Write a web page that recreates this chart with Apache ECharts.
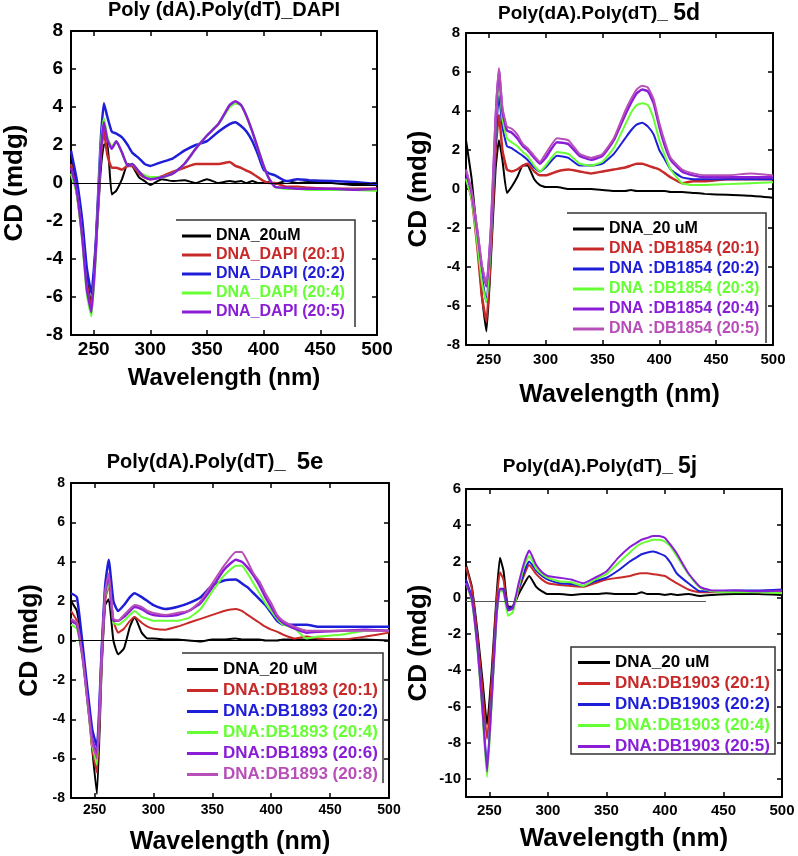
<!DOCTYPE html>
<html>
<head>
<meta charset="utf-8">
<script src="https://cdn.jsdelivr.net/npm/echarts@6/dist/echarts.min.js"></script>
<style>
html,body{margin:0;padding:0;background:#fff;}
#c{width:798px;height:856px;}
</style>
</head>
<body>
<div id="c"></div>
<script>
// ---- shared wavelength grid (nm) ----
const wavelength = [230,235,240,244,248,252,256,259,262,266,270,275,280,284,290,295,300,310,320,330,340,350,360,370,375,380,385,390,395,400,405,410,420,430,440,460,480,500];
const xTicks = [250,300,350,400,450,500];
const yTicks8 = [-8,-6,-4,-2,0,2,4,6,8];
const yTicks4 = [-10,-8,-6,-4,-2,0,2,4,6];

// ---- Panel 1: Poly (dA).Poly(dT)_DAPI ----
const p1Names = ['DNA_20uM','DNA_DAPI (20:1)','DNA_DAPI (20:2)','DNA_DAPI (20:4)','DNA_DAPI (20:5)'];
const p1Dna = [1.4,-0.3,-2.5,-5.0,-6.4,-3.5,0.5,2.0,2.1,-0.6, -0.4,0.2,1.0,0.9,0.3,0.1,-0.1,0.2,0.1,0.15, 0.0,0.2,0.0,0.1,0.05,0.1,0.0,0.1,0.0,0.0, 0.05,-0.05,0.1,0.0,0.05,0.0,-0.1,-0.1];
const p1R1 = [1.0,-0.5,-2.8,-5.3,-6.6,-3.2,1.2,2.8,1.5,0.8, 0.8,0.7,0.9,0.9,0.5,0.3,0.2,0.35,0.6,0.8, 1.0,1.0,1.0,1.1,0.9,0.8,0.65,0.5,0.3,0.1, 0.0,0.0,-0.2,-0.2,-0.25,-0.3,-0.3,-0.3];
const p1R2 = [1.7,0.2,-2.0,-4.5,-5.8,-3.0,2.0,4.2,3.5,2.7, 2.6,2.4,2.0,1.6,1.3,1.0,0.9,1.1,1.3,1.7, 2.0,2.2,2.7,3.1,3.2,3.0,2.7,2.2,1.5,0.7, 0.5,0.4,0.1,0.2,0.15,0.1,0.05,-0.05];
const p1R4 = [0.5,-0.5,-3.0,-5.8,-7.0,-3.6,1.5,3.4,2.4,1.9, 2.2,1.6,0.9,1.0,0.6,0.4,0.3,0.3,0.5,1.0, 1.8,2.5,3.1,4.0,4.2,4.1,3.5,2.7,1.8,0.9, 0.2,-0.2,-0.3,-0.3,-0.35,-0.35,-0.35,-0.4];
const p1R5 = [0.8,-0.4,-2.9,-5.6,-6.8,-3.4,1.3,3.2,2.3,1.8, 2.2,1.6,0.9,1.0,0.6,0.3,0.2,0.3,0.5,1.0, 1.8,2.5,3.1,4.1,4.3,4.1,3.5,2.7,1.8,0.9, 0.2,-0.2,-0.25,-0.3,-0.3,-0.3,-0.35,-0.3];

// ---- Panel 2: 5d ----
const p2Names = ['DNA_20 uM','DNA :DB1854 (20:1)','DNA :DB1854 (20:2)','DNA :DB1854 (20:3)','DNA :DB1854 (20:4)','DNA :DB1854 (20:5)'];
const p2Dna = [2.5,0.5,-2.5,-5.5,-7.3,-3.5,1.0,2.5,1.5,-0.2, 0.1,0.6,1.2,1.2,0.5,0.2,0.1,0.1,0.0,0.0, 0.0,-0.05,-0.1,-0.1,-0.05,-0.1,-0.1,-0.1,-0.1,-0.1, -0.1,-0.15,-0.15,-0.2,-0.25,-0.3,-0.35,-0.45];
const p2R1 = [0.6,-0.5,-3.0,-5.5,-6.8,-3.0,2.0,3.8,2.0,1.0, 0.9,1.0,1.2,1.3,0.9,0.7,0.7,0.9,1.0,0.9, 0.8,0.9,1.0,1.1,1.2,1.3,1.3,1.2,1.1,1.0, 0.8,0.6,0.3,0.4,0.4,0.5,0.5,0.5];
const p2R2 = [0.8,-0.3,-2.5,-4.5,-5.8,-2.5,2.5,4.8,3.2,2.2, 2.1,1.9,1.7,1.5,1.1,0.9,1.1,1.7,1.6,1.2, 1.2,1.3,1.8,2.6,3.0,3.3,3.4,3.2,2.8,2.0, 1.5,1.0,0.6,0.5,0.5,0.5,0.5,0.5];
const p2R3 = [0.5,-0.5,-2.8,-4.8,-5.8,-2.5,3.0,5.6,3.6,2.6, 2.4,2.2,1.9,1.7,1.2,0.9,1.2,1.9,1.8,1.3, 1.2,1.4,2.1,3.3,3.9,4.3,4.4,4.3,3.6,2.5, 1.7,1.0,0.3,0.2,0.2,0.25,0.3,0.35];
const p2R4 = [0.9,-0.2,-2.2,-4.0,-5.0,-2.0,3.5,6.1,4.0,3.0, 2.9,2.6,2.2,2.0,1.6,1.3,1.6,2.4,2.3,1.7, 1.5,1.7,2.5,3.8,4.4,4.9,5.1,5.0,4.4,3.2, 2.2,1.5,0.9,0.7,0.6,0.6,0.6,0.6];
const p2R5 = [1.0,-0.1,-2.1,-3.9,-4.9,-1.9,3.7,6.2,4.2,3.2, 3.1,2.8,2.3,2.1,1.7,1.4,1.8,2.6,2.5,1.8, 1.6,1.8,2.6,4.0,4.6,5.1,5.3,5.2,4.6,3.4, 2.4,1.6,1.0,0.8,0.7,0.7,0.8,0.7];

// ---- Panel 3: 5e ----
const p3Names = ['DNA_20 uM','DNA:DB1893 (20:1)','DNA:DB1893 (20:2)','DNA:DB1893 (20:4)','DNA:DB1893 (20:6)','DNA:DB1893 (20:8)'];
const p3Dna = [2.0,1.5,-0.5,-2.8,-5.5,-7.8,-1.5,1.8,2.1,0.0, -0.7,-0.4,0.7,1.2,0.4,0.1,0.1,0.05,0.05,0.0, -0.05,0.05,0.05,0.1,0.05,0.05,0.05,0.05,0.0,0.0, 0.0,0.05,0.05,0.05,0.05,0.05,0.05,0.0];
const p3R1 = [1.5,1.0,-0.8,-3.0,-5.5,-6.7,-1.2,2.0,2.8,1.0, 0.4,0.6,1.0,1.2,0.9,0.7,0.6,0.55,0.7,0.9, 1.1,1.3,1.5,1.6,1.5,1.3,1.1,0.9,0.7,0.55, 0.45,0.3,0.1,0.2,0.1,0.05,0.2,0.4];
const p3R2 = [2.4,2.2,-0.3,-2.5,-4.5,-5.4,-0.5,2.8,4.1,2.0, 1.5,1.8,2.2,2.4,2.2,2.0,1.8,1.6,1.7,1.9, 2.2,2.8,3.05,3.1,2.9,2.7,2.4,2.1,1.8,1.4, 1.0,0.8,0.8,0.8,0.7,0.7,0.7,0.7];
const p3R4 = [0.8,0.6,-1.0,-3.2,-5.3,-6.3,-1.0,2.2,2.9,0.9, 0.8,1.0,1.3,1.5,1.2,1.1,1.0,1.0,1.0,1.15, 1.6,2.5,3.3,3.8,3.8,3.4,2.9,2.4,1.9,1.5, 1.1,0.8,0.6,0.1,0.2,0.3,0.5,0.5];
const p3R6 = [1.0,0.8,-0.9,-3.0,-5.0,-5.8,-0.8,2.4,3.3,1.0, 1.0,1.2,1.5,1.7,1.6,1.4,1.3,1.25,1.3,1.5, 1.9,2.7,3.6,4.1,4.0,3.7,3.3,2.8,2.2,1.7, 1.2,0.9,0.6,0.4,0.45,0.5,0.55,0.5];
const p3R8 = [1.1,0.9,-0.9,-3.1,-5.2,-6.0,-0.8,2.5,3.4,1.1, 1.0,1.3,1.6,1.8,1.7,1.5,1.4,1.3,1.4,1.5, 2.0,2.9,3.8,4.5,4.5,4.0,3.4,3.0,2.4,1.9, 1.3,1.0,0.7,0.5,0.5,0.5,0.5,0.5];

// ---- Panel 4: 5j ----
const p4Names = ['DNA_20 uM','DNA:DB1903 (20:1)','DNA:DB1903 (20:2)','DNA:DB1903 (20:4)','DNA:DB1903 (20:5)'];
const p4Dna = [1.8,0.6,-2.0,-4.5,-7.0,-4.0,0.0,2.2,1.5,-0.5, -0.5,0.2,0.8,1.2,0.6,0.35,0.2,0.2,0.15,0.2, 0.2,0.25,0.2,0.2,0.2,0.3,0.2,0.2,0.2,0.15, 0.2,0.15,0.2,0.1,0.15,0.2,0.2,0.15];
const p4R1 = [1.7,0.5,-2.3,-5.0,-7.8,-4.5,-0.3,1.4,1.0,-0.6, -0.5,0.4,1.3,1.8,1.3,1.0,0.8,0.7,0.65,0.6, 0.8,1.0,1.1,1.2,1.3,1.35,1.35,1.3,1.25,1.2, 1.0,0.8,0.45,0.3,0.3,0.35,0.3,0.3];
const p4R2 = [1.0,0.0,-2.8,-6.0,-9.3,-5.5,-1.0,0.5,0.5,-0.6, -0.5,0.5,1.5,2.0,1.5,1.2,1.0,0.8,0.75,0.65, 0.9,1.1,1.5,2.0,2.2,2.4,2.5,2.55,2.45,2.3, 1.9,1.35,0.8,0.35,0.35,0.4,0.4,0.45];
const p4R4 = [0.8,-0.2,-3.0,-6.3,-9.9,-5.8,-1.2,0.4,0.3,-1.0, -0.8,0.6,1.8,2.3,1.6,1.3,1.1,0.9,0.85,0.65, 1.0,1.3,1.9,2.5,2.8,3.0,3.1,3.2,3.2,3.1, 2.8,2.3,1.3,0.55,0.35,0.3,0.3,0.25];
const p4R5 = [0.8,-0.1,-2.9,-6.1,-9.6,-5.6,-1.1,0.5,0.4,-0.7, -0.6,0.8,2.0,2.6,1.8,1.4,1.2,1.1,1.0,0.8, 1.1,1.45,2.2,2.8,3.0,3.2,3.3,3.4,3.4,3.3, 2.9,2.45,1.35,0.6,0.4,0.4,0.35,0.4];

// ---- styling ----
const FONT = '"Liberation Sans", Arial, sans-serif';
const C = {black:'#000000', red:'#c82a2a', blue:'#1e1ed8', green:'#66ff33', purple:'#8a1ed6', magenta:'#b84fb8'};

const panels = [
  {grid:{left:71, top:31, width:306, height:304}, ymin:-8, ymax:8, yTicks:yTicks8, tickFont:19, ymargin:8, xmargin:5,
   yGap:43, xGap:31, nameFont:24, yNameFont:26,
   names:p1Names, data:[p1Dna,p1R1,p1R2,p1R4,p1R5], colors:[C.black,C.red,C.blue,C.green,C.purple], widths:[2,2.5,2.5,2.5,2.5],
   zero:{y:0}, legend:{left:182, top:228, itemWidth:29, itemGap:3, fontSize:16}},
  {grid:{left:466, top:33, width:307, height:312}, ymin:-8, ymax:8, yTicks:yTicks8, tickFont:15, ymargin:6, xmargin:7,
   yGap:34, xGap:38, nameFont:25, yNameFont:26,
   names:p2Names, data:[p2Dna,p2R1,p2R2,p2R3,p2R4,p2R5], colors:[C.black,C.red,C.blue,C.green,C.purple,C.magenta], widths:[2,2.5,2,2,2.5,2],
   zero:null, legend:{left:573, top:221, itemWidth:31, itemGap:4, fontSize:16}},
  {grid:{left:71, top:483, width:318, height:315}, ymin:-8, ymax:8, yTicks:yTicks8, tickFont:14, ymargin:6, xmargin:5,
   yGap:28, xGap:32, nameFont:25, yNameFont:25,
   names:p3Names, data:[p3Dna,p3R1,p3R2,p3R4,p3R6,p3R8], colors:[C.black,C.red,C.blue,C.green,C.purple,C.magenta], widths:[2,2,2.5,2,2.5,2],
   zero:{y:0}, legend:{left:187, top:661, itemWidth:31, itemGap:4, fontSize:17}},
  {grid:{left:466, top:489, width:316, height:308}, ymin:-11, ymax:6, yTicks:yTicks4, tickFont:15, ymargin:5, xmargin:6,
   yGap:34, xGap:29, nameFont:26, yNameFont:26,
   names:p4Names, data:[p4Dna,p4R1,p4R2,p4R4,p4R5], colors:[C.black,C.red,C.blue,C.green,C.purple], widths:[2,2,2,2,2],
   zero:{y:-0.2, to:435}, legend:{left:578, top:654, itemWidth:32, itemGap:4, fontSize:17}}
];

const grids=[], xAxes=[], yAxes=[], series=[], legends=[];
panels.forEach((p, gi) => {
  grids.push(p.grid);
  const axLine = {show:true, onZero:false, lineStyle:{color:'#000', width:2}};
  const tick = (vals) => ({show:true, inside:true, length:5, customValues:vals, lineStyle:{color:'#000', width:1.5}});
  xAxes.push({gridIndex:gi, type:'value', min:230, max:500, position:'bottom',
    axisLine:axLine, axisTick:tick(xTicks), splitLine:{show:false},
    axisLabel:{customValues:xTicks, fontSize:p.tickFont, fontWeight:'bold', fontFamily:FONT, color:'#000', margin:p.xmargin},
    name:'Wavelength (nm)', nameLocation:'middle', nameGap:p.xGap,
    nameTextStyle:{fontSize:p.nameFont, fontWeight:'bold', fontFamily:FONT, color:'#000'}});
  xAxes.push({gridIndex:gi, type:'value', min:230, max:500, position:'top',
    axisLine:axLine, axisTick:tick(xTicks), splitLine:{show:false}, axisLabel:{show:false}});
  yAxes.push({gridIndex:gi, type:'value', min:p.ymin, max:p.ymax, position:'left',
    axisLine:axLine, axisTick:tick(p.yTicks), splitLine:{show:false},
    axisLabel:{customValues:p.yTicks, fontSize:p.tickFont, fontWeight:'bold', fontFamily:FONT, color:'#000', margin:p.ymargin},
    name:'CD (mdg)', nameLocation:'middle', nameGap:p.yGap,
    nameTextStyle:{fontSize:p.yNameFont, fontWeight:'bold', fontFamily:FONT, color:'#000'}});
  yAxes.push({gridIndex:gi, type:'value', min:p.ymin, max:p.ymax, position:'right',
    axisLine:axLine, axisTick:tick(p.yTicks), splitLine:{show:false}, axisLabel:{show:false}});
  p.names.forEach((nm, si) => {
    const s = {type:'line', name:nm, xAxisIndex:gi*2, yAxisIndex:gi*2,
      data: wavelength.map((w,i)=>[w, p.data[si][i]]),
      symbol:'none', smooth:0.15, clip:true,
      lineStyle:{color:p.colors[si], width:p.widths[si]}, itemStyle:{color:p.colors[si]}};
    if (si === 0 && p.zero) {
      s.markLine = {silent:true, symbol:'none', label:{show:false}, animation:false,
        lineStyle:{color: gi===3 ? '#555' : '#000', width:1, type:'solid'},
        data: p.zero.to ? [[{coord:[230,p.zero.y]},{coord:[p.zero.to,p.zero.y]}]] : [{yAxis:p.zero.y}]};
    }
    series.push(s);
  });
  legends.push({left:p.legend.left, top:p.legend.top, orient:'vertical', padding:0,
    icon:'rect', itemWidth:p.legend.itemWidth, itemHeight:3, itemGap:p.legend.itemGap, selectedMode:false,
    textStyle:{fontSize:p.legend.fontSize, fontWeight:'bold', fontFamily:FONT},
    data:p.names.map((nm,si)=>({name:nm, textStyle:{color:p.colors[si]}}))});
});

const richTitle = (text, fa, fb) => ({text, fill:'#000', align:'center', verticalAlign:'middle',
  rich:{a:{font:'bold '+fa+'px '+FONT, fill:'#000'}, b:{font:'bold '+fb+'px '+FONT, fill:'#000'}}});
const graphics = [
  {type:'text', x:224, y:10, style:{text:'Poly (dA).Poly(dT)_DAPI', font:'bold 20px ' + FONT, fill:'#000', align:'center', verticalAlign:'middle'}},
  {type:'text', x:599, y:14, style:richTitle('{a|Poly(dA).Poly(dT)_ }{b|5d}', 19, 23)},
  {type:'text', x:215, y:462, style:richTitle('{a|Poly(dA).Poly(dT)_  }{b|5e}', 20, 24)},
  {type:'text', x:600, y:467, style:richTitle('{a|Poly(dA).Poly(dT)_ }{b|5j}', 19, 23)},
  // legend frames
  {type:'polyline', shape:{points:[[176,220],[355,220],[355,327]]}, style:{stroke:'#333', lineWidth:1.5, fill:null}},
  {type:'polyline', shape:{points:[[567,213],[766,213],[766,343]]}, style:{stroke:'#333', lineWidth:1.5, fill:null}},
  {type:'polyline', shape:{points:[[182,653],[383,653],[383,783]]}, style:{stroke:'#333', lineWidth:1.5, fill:null}},
  {type:'rect', shape:{x:571, y:647, width:204, height:107}, style:{stroke:'#333', lineWidth:1.5, fill:null}}
];

const chart = echarts.init(document.getElementById('c'), null, {renderer:'canvas'});
chart.setOption({
  animation:false,
  backgroundColor:'#fff',
  grid:grids, xAxis:xAxes, yAxis:yAxes, series:series, legend:legends, graphic:graphics
});
</script>
</body>
</html>
